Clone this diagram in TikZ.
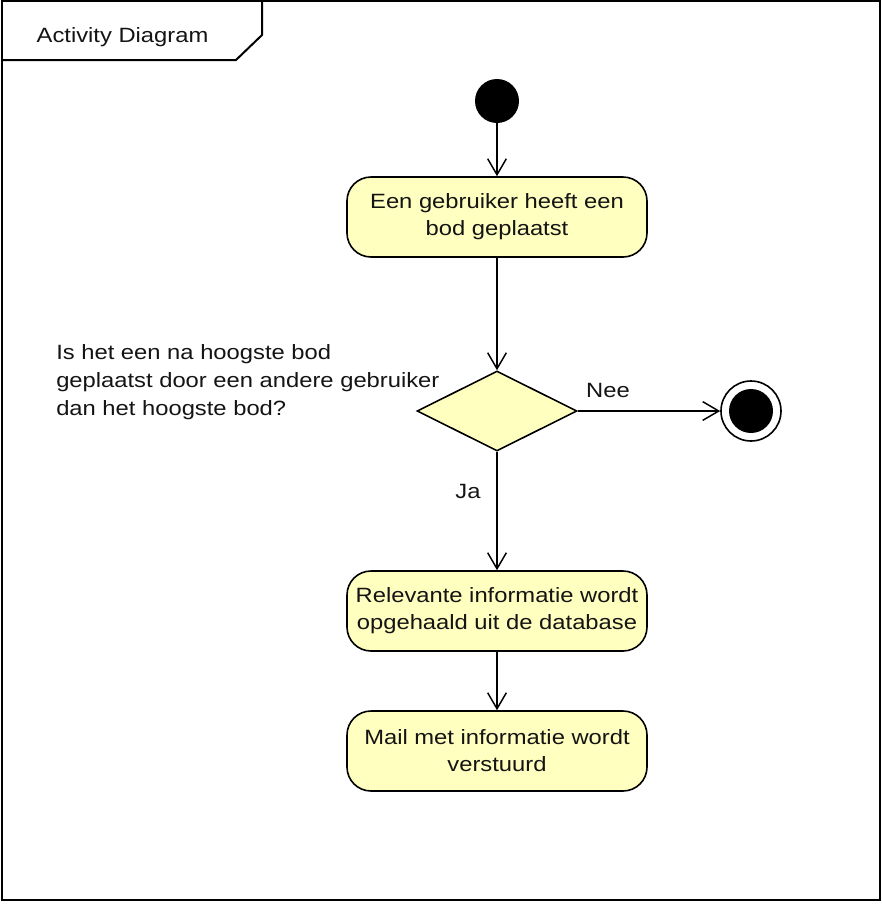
\documentclass[tikz,border=0pt]{standalone}
\usepackage{fontspec}
\setmainfont{Liberation Sans}[FakeStretch=1.15]
\usetikzlibrary{arrows.meta,shapes.geometric}
\definecolor{actfill}{HTML}{FFFFC0}
\definecolor{ink}{HTML}{141414}
\begin{document}
\begin{tikzpicture}[x=0.75pt,y=-0.75pt,
  every node/.style={font=\fontsize{15.5}{20.25}\selectfont, text=ink},
  action/.style={draw, line width=1.2pt, fill=actfill, rounded corners=18pt,
    minimum width=225pt, minimum height=60pt, align=center, inner sep=0pt},
  decision/.style={draw, diamond, line width=1.2pt, fill=actfill,
    minimum width=120pt, minimum height=60pt, inner sep=0pt},
  initnode/.style={circle, fill=black, minimum size=33pt, inner sep=0pt},
  finalring/.style={circle, draw, line width=1.2pt, fill=white, minimum size=45pt, inner sep=0pt},
  flow/.style={draw, line width=1.1pt, -{Straight Barb[length=12pt,width=14pt,line width=1.1pt]}},
  lbl/.style={inner sep=0pt}]
\useasboundingbox (0,0) rectangle (882,904);
% frame
\draw[line width=1.5pt] (2,1) rectangle (880,900);
\draw[line width=1.5pt] (2,60) -- (236,60) -- (262,35) -- (262,1);
\node[lbl, anchor=base] (title) at (122.5,42) {Activity Diagram};
% nodes
\node[initnode] (start) at (497,101) {};
\node[action] (a1) at (497,217) {Een gebruiker heeft een\\bod geplaatst};
\node[decision] (d) at (497,411) {};
\node[finalring] (end) at (751,411) {};
\node[initnode] (endin) at (end.center) {};
\node[action] (a2) at (497,611) {Relevante informatie wordt\\opgehaald uit de database};
\node[action] (a3) at (497,751) {Mail met informatie wordt\\verstuurd};
\node[lbl, anchor=west, align=left, font=\fontsize{15.5}{21}\selectfont] (q) at (56,382)
  {Is het een na hoogste bod\\geplaatst door een andere gebruiker\\dan het hoogste bod?};
\node[lbl, anchor=base] (nee) at (608,397) {Nee};
\node[lbl, anchor=base] (ja) at (468,498) {Ja};
% connectors
\draw[flow] (start) -- (a1);
\draw[flow] (a1) -- (d);
\draw[flow] (d) -- (end);
\draw[flow] (d) -- (a2);
\draw[flow] (a2) -- (a3);
\end{tikzpicture}
\end{document}
